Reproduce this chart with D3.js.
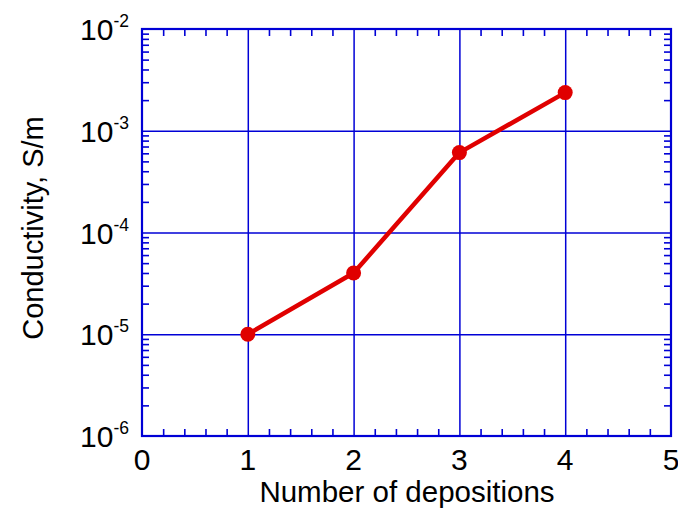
<!DOCTYPE html>
<html><head><meta charset="utf-8">
<script src="https://cdn.jsdelivr.net/npm/d3@7"></script>
<style>
body{margin:0;background:#fff;}
text{font-family:"Liberation Sans",Arial,sans-serif;fill:#000;}
</style></head>
<body><svg id="c" width="678" height="509"></svg>
<script>
const xValues = [1, 2, 3, 4];
const conductivity = [1.0e-5, 4.0e-5, 6.1e-4, 2.37e-3];
const xTicks = [0, 1, 2, 3, 4, 5];
const yExponents = [-6, -5, -4, -3, -2];
const xLabel = "Number of depositions";
const yLabel = "Conductivity, S/m";

const L = 142, R = 671, T = 29, B = 436;
const blue = "#0000d6", red = "#e00000";
const svg = d3.select("#c");
const x = d3.scaleLinear().domain([0, 5]).range([L, R]);
const y = d3.scaleLog().domain([1e-6, 1e-2]).range([B, T]);
const W = R - L, H = B - T;

const xMinor = d3.range(0, 5.001, 0.2).filter(v => Math.abs(v - Math.round(v)) > 1e-6);
const yMinor = [];
for (let e = -6; e < -2; e++) for (let m = 2; m <= 9; m++) yMinor.push(m * Math.pow(10, e));
const yMajor = yExponents.map(e => Math.pow(10, e));

function styleAxis(g, w) {
  g.select(".domain").remove();
  g.selectAll("line").attr("stroke", blue).attr("stroke-width", w);
  g.selectAll("text").remove();
}
// grid lines
svg.append("g").attr("transform", `translate(0,${B})`)
  .call(d3.axisBottom(x).tickValues(xTicks.slice(1, -1)).tickSize(-H).tickFormat(""))
  .call(g => styleAxis(g, 1.5));
svg.append("g").attr("transform", `translate(${L},0)`)
  .call(d3.axisLeft(y).tickValues(yMajor.slice(1, -1)).tickSize(-W).tickFormat(""))
  .call(g => styleAxis(g, 1.5));
// minor ticks
const tl = 7;
svg.append("g").attr("transform", `translate(0,${B})`)
  .call(d3.axisBottom(x).tickValues(xMinor).tickSize(-tl).tickFormat("")).call(g => styleAxis(g, 1.6));
svg.append("g").attr("transform", `translate(0,${T})`)
  .call(d3.axisTop(x).tickValues(xMinor).tickSize(-tl).tickFormat("")).call(g => styleAxis(g, 1.6));
svg.append("g").attr("transform", `translate(${L},0)`)
  .call(d3.axisLeft(y).tickValues(yMinor).tickSize(-tl).tickFormat("")).call(g => styleAxis(g, 1.6));
svg.append("g").attr("transform", `translate(${R},0)`)
  .call(d3.axisRight(y).tickValues(yMinor).tickSize(-tl).tickFormat("")).call(g => styleAxis(g, 1.6));
// frame
svg.append("rect").attr("x", L).attr("y", T).attr("width", W).attr("height", H)
  .attr("fill", "none").attr("stroke", blue).attr("stroke-width", 2.2);

// tick labels
svg.append("g").selectAll("text").data(xTicks).join("text")
  .attr("x", d => x(d)).attr("y", B + 34).attr("text-anchor", "middle")
  .attr("font-size", 30).text(d => d);
const yl = svg.append("g").selectAll("text").data(yExponents).join("text")
  .attr("x", 129).attr("y", d => y(Math.pow(10, d)) + 11).attr("text-anchor", "end")
  .attr("font-size", 30);
yl.append("tspan").text("10");
yl.append("tspan").attr("font-size", 17.5).attr("dy", -13).text(d => d);

// axis titles
svg.append("text").attr("x", 407).attr("y", 502).attr("text-anchor", "middle")
  .attr("font-size", 29.5).text(xLabel);
svg.append("text").attr("transform", `translate(43,228) rotate(-90)`).attr("text-anchor", "middle")
  .attr("font-size", 29).text(yLabel);

// data
const pts = xValues.map((v, i) => [v, conductivity[i]]);
svg.append("path").datum(pts)
  .attr("d", d3.line().x(d => x(d[0])).y(d => y(d[1])))
  .attr("fill", "none").attr("stroke", red).attr("stroke-width", 4.5).attr("stroke-linejoin", "round");
svg.append("g").selectAll("circle").data(pts).join("circle")
  .attr("cx", d => x(d[0])).attr("cy", d => y(d[1])).attr("r", 7.5).attr("fill", red);
</script></body></html>
